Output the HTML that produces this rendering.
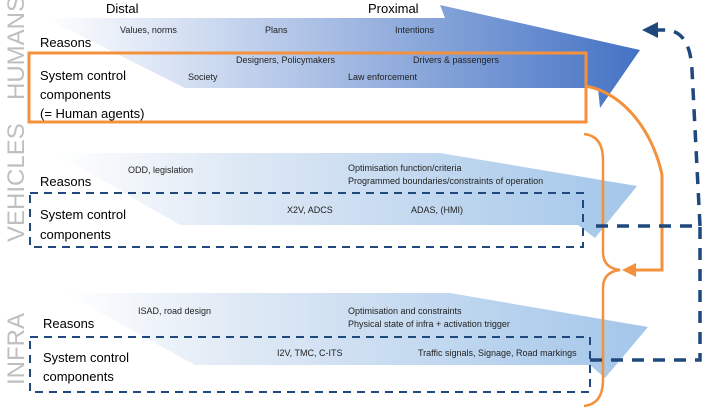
<!DOCTYPE html>
<html><head><meta charset="utf-8"><style>
html,body{margin:0;padding:0;background:#fff;}
svg{display:block;font-family:"Liberation Sans",sans-serif;}
</style></head><body>
<svg width="702" height="410" viewBox="0 0 702 410" xmlns="http://www.w3.org/2000/svg">
<defs>
<linearGradient id="gh" x1="0" x2="1" y1="0" y2="0">
<stop offset="0" stop-color="#ffffff"/><stop offset="0.3" stop-color="#c9d7ef"/><stop offset="1" stop-color="#4472c4"/></linearGradient>
<linearGradient id="gv" x1="0" x2="1" y1="0" y2="0">
<stop offset="0" stop-color="#ffffff"/><stop offset="0.3" stop-color="#dfe9f5"/><stop offset="1" stop-color="#a3c6ea"/></linearGradient>
</defs>
<!-- side labels -->
<g fill="#bfbfbf" font-size="24">
<text transform="translate(24,100) rotate(-90)">HUMANS</text>
<text transform="translate(24,242) rotate(-90)">VEHICLES</text>
<text transform="translate(24,385) rotate(-90)">INFRA</text>
</g>
<!-- arrows -->
<polygon points="45,18 445,18 440,5 640,50 600,108 598,88 185,88" fill="url(#gh)"/>
<polygon points="55,153 440,153 637,186 595,238 578,225 180,225" fill="url(#gv)"/>
<polygon points="65,293 450,293 648,327 605,378 590,365 195,365" fill="url(#gv)"/>
<!-- boxes -->
<rect x="29" y="53" width="557" height="69" fill="none" stroke="#f4913c" stroke-width="3"/>
<rect x="30" y="193" width="553" height="54" fill="none" stroke="#1f497d" stroke-width="2" stroke-dasharray="8,6"/>
<rect x="30" y="337" width="560" height="55" fill="none" stroke="#1f497d" stroke-width="2" stroke-dasharray="8,6"/>
<!-- orange connectors -->
<path d="M586,86 C630,95 655,140 662,175 L662,270 L630,270" fill="none" stroke="#f4913c" stroke-width="3"/>
<polygon points="622,270 636,263 636,277" fill="#f4913c"/>
<path d="M584,134 Q603,136 603,160 L603,252 Q603,268 620,270 Q603,272 603,288 L603,380 Q603,404 584,406" fill="none" stroke="#f4913c" stroke-width="2.5"/>
<!-- navy dashed -->
<path d="M590,360 L700,360 L700,226 L590,226" fill="none" stroke="#1f497d" stroke-width="3.5" stroke-dasharray="12,9"/>
<path d="M700,226 L692,70 Q690,30 665,30 L655,30" fill="none" stroke="#1f497d" stroke-width="3.5" stroke-dasharray="12,9"/>
<polygon points="642,30 658,22 658,38" fill="#1f497d"/>
<!-- texts -->
<g fill="#000" font-size="13">
<text x="106" y="13">Distal</text>
<text x="368" y="13">Proximal</text>
<text x="40" y="47">Reasons</text>
<text x="40" y="80">System control</text>
<text x="40" y="99">components</text>
<text x="40" y="118">(= Human agents)</text>
<text x="40" y="186">Reasons</text>
<text x="40" y="219">System control</text>
<text x="40" y="239">components</text>
<text x="43" y="328">Reasons</text>
<text x="43" y="362">System control</text>
<text x="43" y="381">components</text>
</g>
<g fill="#222" font-size="9">
<text x="120" y="33">Values, norms</text>
<text x="265" y="33">Plans</text>
<text x="395" y="33">Intentions</text>
<text x="236" y="63">Designers, Policymakers</text>
<text x="413" y="63">Drivers &amp; passengers</text>
<text x="188" y="80">Society</text>
<text x="348" y="80">Law enforcement</text>
<text x="128" y="173">ODD, legislation</text>
<text x="348" y="171">Optimisation function/criteria</text>
<text x="348" y="184">Programmed boundaries/constraints of operation</text>
<text x="287" y="213">X2V, ADCS</text>
<text x="411" y="213">ADAS, (HMI)</text>
<text x="138" y="314">ISAD, road design</text>
<text x="348" y="314">Optimisation and constraints</text>
<text x="348" y="327">Physical state of infra + activation trigger</text>
<text x="277" y="356">I2V, TMC, C-ITS</text>
<text x="418" y="356">Traffic signals, Signage, Road markings</text>
</g>
</svg>
</body></html>
